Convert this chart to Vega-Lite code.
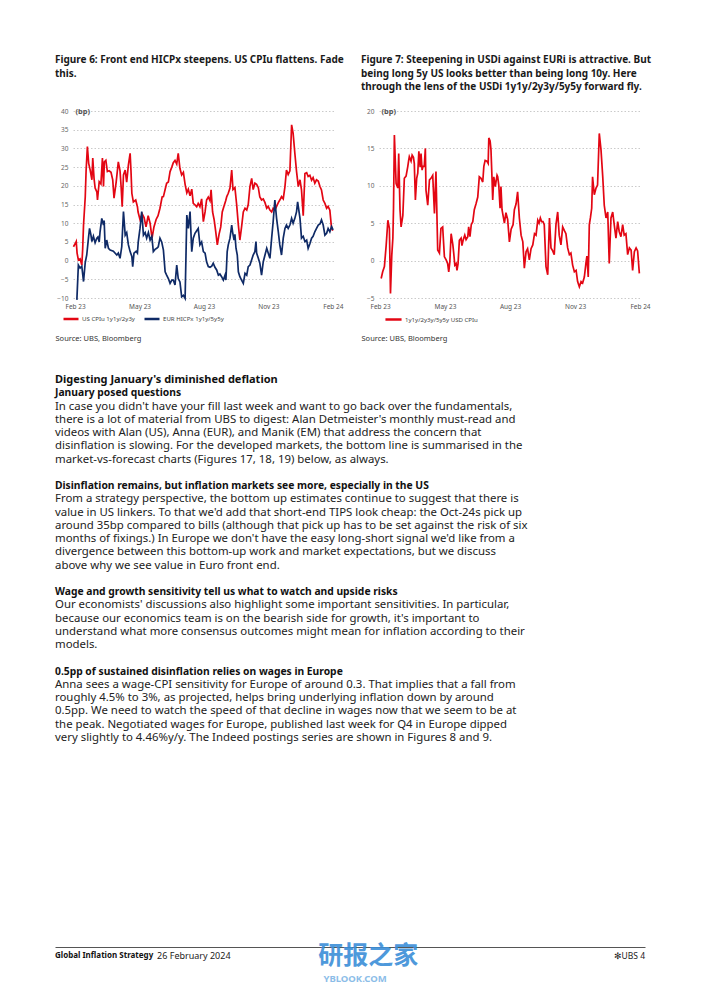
{
"$schema": "https://vega.github.io/schema/vega-lite/v6.json",
"background": "white",
"padding": {"left": 55, "top": 55, "right": 0, "bottom": 0},
"config": {
  "font": "Noto Sans",
  "view": {"stroke": null},
  "axis": {"labelFont": "Noto Sans", "titleFont": "Noto Sans"},
  "legend": {"labelFont": "Noto Sans", "titleFont": "Noto Sans"},
  "title": {"font": "Noto Sans"}
},
"datasets": {
"fig6": [
{"s":"US","t":-0.08,"v":3.7},{"s":"US","t":0,"v":4.5},{"s":"US","t":0.05,"v":5.1},{"s":"US","t":0.09,"v":2},{"s":"US","t":0.15,"v":0.2},{"s":"US","t":0.23,"v":0.5},{"s":"US","t":0.31,"v":-1.2},{"s":"US","t":0.35,"v":3},{"s":"US","t":0.39,"v":9.5},{"s":"US","t":0.47,"v":17},{"s":"US","t":0.51,"v":24},{"s":"US","t":0.57,"v":30.5},{"s":"US","t":0.63,"v":26},{"s":"US","t":0.70,"v":24.2},{"s":"US","t":0.78,"v":21.6},{"s":"US","t":0.82,"v":27.4},{"s":"US","t":0.88,"v":22},{"s":"US","t":0.93,"v":19.4},{"s":"US","t":1.01,"v":18.4},{"s":"US","t":1.04,"v":16.2},{"s":"US","t":1.12,"v":21.1},{"s":"US","t":1.20,"v":20.5},{"s":"US","t":1.27,"v":27.4},{"s":"US","t":1.32,"v":19.8},{"s":"US","t":1.36,"v":26.4},{"s":"US","t":1.43,"v":26.8},{"s":"US","t":1.50,"v":23.8},{"s":"US","t":1.58,"v":24},{"s":"US","t":1.67,"v":23.6},{"s":"US","t":1.75,"v":21.6},{"s":"US","t":1.81,"v":16.7},{"s":"US","t":1.91,"v":21},{"s":"US","t":2.01,"v":26.4},{"s":"US","t":2.09,"v":24},{"s":"US","t":2.14,"v":19.8},{"s":"US","t":2.19,"v":14.4},{"s":"US","t":2.25,"v":22.9},{"s":"US","t":2.33,"v":24.2},{"s":"US","t":2.40,"v":21},{"s":"US","t":2.48,"v":25.6},{"s":"US","t":2.56,"v":28.7},{"s":"US","t":2.60,"v":24},{"s":"US","t":2.64,"v":18},{"s":"US","t":2.71,"v":15.7},{"s":"US","t":2.82,"v":16.2},{"s":"US","t":2.90,"v":14.4},{"s":"US","t":2.93,"v":13},{"s":"US","t":3.02,"v":11},{"s":"US","t":3.12,"v":12.5},{"s":"US","t":3.21,"v":11.5},{"s":"US","t":3.30,"v":9},{"s":"US","t":3.40,"v":12},{"s":"US","t":3.49,"v":10},{"s":"US","t":3.58,"v":6},{"s":"US","t":3.67,"v":9},{"s":"US","t":3.77,"v":11},{"s":"US","t":3.86,"v":12},{"s":"US","t":3.95,"v":14},{"s":"US","t":4.05,"v":17},{"s":"US","t":4.11,"v":17.1},{"s":"US","t":4.19,"v":19},{"s":"US","t":4.26,"v":20.7},{"s":"US","t":4.34,"v":21},{"s":"US","t":4.42,"v":23.8},{"s":"US","t":4.50,"v":25},{"s":"US","t":4.57,"v":26.2},{"s":"US","t":4.65,"v":26.8},{"s":"US","t":4.73,"v":25.8},{"s":"US","t":4.80,"v":28.7},{"s":"US","t":4.88,"v":24.6},{"s":"US","t":4.96,"v":22.9},{"s":"US","t":5.04,"v":23.6},{"s":"US","t":5.12,"v":20.4},{"s":"US","t":5.20,"v":18.1},{"s":"US","t":5.27,"v":19.1},{"s":"US","t":5.35,"v":17.3},{"s":"US","t":5.43,"v":19.1},{"s":"US","t":5.50,"v":15.3},{"s":"US","t":5.58,"v":14.9},{"s":"US","t":5.66,"v":14.4},{"s":"US","t":5.73,"v":15.3},{"s":"US","t":5.81,"v":14.4},{"s":"US","t":5.89,"v":16.5},{"s":"US","t":5.97,"v":10.4},{"s":"US","t":6.05,"v":13},{"s":"US","t":6.12,"v":16.2},{"s":"US","t":6.20,"v":17},{"s":"US","t":6.28,"v":16},{"s":"US","t":6.33,"v":18.9},{"s":"US","t":6.40,"v":13},{"s":"US","t":6.47,"v":11},{"s":"US","t":6.54,"v":8},{"s":"US","t":6.62,"v":4.2},{"s":"US","t":6.70,"v":7},{"s":"US","t":6.78,"v":9},{"s":"US","t":6.85,"v":13},{"s":"US","t":6.93,"v":14.5},{"s":"US","t":7.01,"v":16},{"s":"US","t":7.06,"v":17.1},{"s":"US","t":7.13,"v":18},{"s":"US","t":7.21,"v":19.4},{"s":"US","t":7.29,"v":24.2},{"s":"US","t":7.35,"v":19},{"s":"US","t":7.44,"v":19.5},{"s":"US","t":7.52,"v":15},{"s":"US","t":7.60,"v":9.5},{"s":"US","t":7.67,"v":5.5},{"s":"US","t":7.75,"v":9},{"s":"US","t":7.83,"v":13},{"s":"US","t":7.91,"v":14},{"s":"US","t":7.99,"v":13.5},{"s":"US","t":8.06,"v":15},{"s":"US","t":8.14,"v":19.8},{"s":"US","t":8.22,"v":22},{"s":"US","t":8.29,"v":19},{"s":"US","t":8.37,"v":20.7},{"s":"US","t":8.45,"v":20.4},{"s":"US","t":8.53,"v":19.5},{"s":"US","t":8.60,"v":17},{"s":"US","t":8.68,"v":16.2},{"s":"US","t":8.76,"v":16.5},{"s":"US","t":8.84,"v":15.5},{"s":"US","t":8.92,"v":14},{"s":"US","t":8.99,"v":14.5},{"s":"US","t":9.07,"v":13.5},{"s":"US","t":9.15,"v":13},{"s":"US","t":9.22,"v":14},{"s":"US","t":9.30,"v":13.5},{"s":"US","t":9.38,"v":14.5},{"s":"US","t":9.46,"v":15.5},{"s":"US","t":9.53,"v":16.2},{"s":"US","t":9.61,"v":17.1},{"s":"US","t":9.69,"v":16.5},{"s":"US","t":9.77,"v":19.8},{"s":"US","t":9.84,"v":24.2},{"s":"US","t":9.92,"v":23},{"s":"US","t":10.00,"v":24},{"s":"US","t":10.08,"v":36.3},{"s":"US","t":10.15,"v":34},{"s":"US","t":10.23,"v":28.7},{"s":"US","t":10.31,"v":23.8},{"s":"US","t":10.39,"v":19.8},{"s":"US","t":10.47,"v":21.6},{"s":"US","t":10.54,"v":18.9},{"s":"US","t":10.62,"v":12},{"s":"US","t":10.70,"v":23.3},{"s":"US","t":10.78,"v":23.5},{"s":"US","t":10.85,"v":22.5},{"s":"US","t":10.93,"v":22.8},{"s":"US","t":11.01,"v":21.5},{"s":"US","t":11.08,"v":22.2},{"s":"US","t":11.16,"v":20.7},{"s":"US","t":11.24,"v":21.6},{"s":"US","t":11.32,"v":21.3},{"s":"US","t":11.40,"v":19.8},{"s":"US","t":11.47,"v":18.9},{"s":"US","t":11.55,"v":16.2},{"s":"US","t":11.63,"v":15.3},{"s":"US","t":11.71,"v":14},{"s":"US","t":11.78,"v":14.5},{"s":"US","t":11.86,"v":13.5},{"s":"US","t":11.94,"v":8.6},{"s":"US","t":12.00,"v":8},
{"s":"EUR","t":0.08,"v":-10.5},{"s":"EUR","t":0.15,"v":-1.2},{"s":"EUR","t":0.23,"v":-2},{"s":"EUR","t":0.31,"v":-1.5},{"s":"EUR","t":0.39,"v":-5.6},{"s":"EUR","t":0.47,"v":-0.5},{"s":"EUR","t":0.54,"v":1.5},{"s":"EUR","t":0.62,"v":6},{"s":"EUR","t":0.67,"v":8.6},{"s":"EUR","t":0.73,"v":7},{"s":"EUR","t":0.78,"v":5.1},{"s":"EUR","t":0.85,"v":6.5},{"s":"EUR","t":0.93,"v":4.8},{"s":"EUR","t":1.01,"v":6},{"s":"EUR","t":1.06,"v":6.3},{"s":"EUR","t":1.12,"v":5},{"s":"EUR","t":1.16,"v":7.7},{"s":"EUR","t":1.24,"v":11.3},{"s":"EUR","t":1.32,"v":9.5},{"s":"EUR","t":1.35,"v":10.7},{"s":"EUR","t":1.40,"v":3.3},{"s":"EUR","t":1.47,"v":5.5},{"s":"EUR","t":1.55,"v":3.3},{"s":"EUR","t":1.63,"v":2.8},{"s":"EUR","t":1.78,"v":2.5},{"s":"EUR","t":1.94,"v":1.5},{"s":"EUR","t":2.01,"v":2},{"s":"EUR","t":2.09,"v":0.6},{"s":"EUR","t":2.17,"v":3.7},{"s":"EUR","t":2.25,"v":13.1},{"s":"EUR","t":2.33,"v":6.8},{"s":"EUR","t":2.40,"v":7.5},{"s":"EUR","t":2.48,"v":4.2},{"s":"EUR","t":2.56,"v":2.4},{"s":"EUR","t":2.64,"v":1.1},{"s":"EUR","t":2.68,"v":-1.6},{"s":"EUR","t":2.74,"v":2},{"s":"EUR","t":2.84,"v":2.5},{"s":"EUR","t":2.90,"v":2},{"s":"EUR","t":2.94,"v":5.1},{"s":"EUR","t":3.02,"v":8.6},{"s":"EUR","t":3.10,"v":13.1},{"s":"EUR","t":3.18,"v":6.8},{"s":"EUR","t":3.26,"v":7.5},{"s":"EUR","t":3.33,"v":6},{"s":"EUR","t":3.41,"v":7.5},{"s":"EUR","t":3.49,"v":5.5},{"s":"EUR","t":3.57,"v":6.5},{"s":"EUR","t":3.64,"v":2.4},{"s":"EUR","t":3.72,"v":3},{"s":"EUR","t":3.80,"v":3.3},{"s":"EUR","t":3.87,"v":3.7},{"s":"EUR","t":3.95,"v":6},{"s":"EUR","t":4.03,"v":5},{"s":"EUR","t":4.11,"v":2.8},{"s":"EUR","t":4.19,"v":-3},{"s":"EUR","t":4.26,"v":-3.9},{"s":"EUR","t":4.34,"v":-4.8},{"s":"EUR","t":4.42,"v":-6.1},{"s":"EUR","t":4.50,"v":-5.2},{"s":"EUR","t":4.57,"v":-5.2},{"s":"EUR","t":4.65,"v":-6.5},{"s":"EUR","t":4.73,"v":-1.2},{"s":"EUR","t":4.80,"v":-4.8},{"s":"EUR","t":4.88,"v":-5.7},{"s":"EUR","t":4.96,"v":-9.7},{"s":"EUR","t":5.04,"v":-9.3},{"s":"EUR","t":5.12,"v":-10.1},{"s":"EUR","t":5.20,"v":12.2},{"s":"EUR","t":5.27,"v":8.6},{"s":"EUR","t":5.35,"v":13.1},{"s":"EUR","t":5.43,"v":2.4},{"s":"EUR","t":5.50,"v":6},{"s":"EUR","t":5.58,"v":7.3},{"s":"EUR","t":5.66,"v":8},{"s":"EUR","t":5.73,"v":8.6},{"s":"EUR","t":5.81,"v":4.2},{"s":"EUR","t":5.89,"v":5},{"s":"EUR","t":5.97,"v":2.4},{"s":"EUR","t":6.05,"v":2},{"s":"EUR","t":6.12,"v":-0.3},{"s":"EUR","t":6.20,"v":-1.6},{"s":"EUR","t":6.28,"v":-1.8},{"s":"EUR","t":6.36,"v":-1.5},{"s":"EUR","t":6.43,"v":-0.7},{"s":"EUR","t":6.51,"v":-1.8},{"s":"EUR","t":6.59,"v":-2.5},{"s":"EUR","t":6.67,"v":-3.9},{"s":"EUR","t":6.74,"v":-3.6},{"s":"EUR","t":6.82,"v":-4.3},{"s":"EUR","t":6.90,"v":-5.2},{"s":"EUR","t":6.98,"v":-3.9},{"s":"EUR","t":7.02,"v":-5.2},{"s":"EUR","t":7.08,"v":2.4},{"s":"EUR","t":7.13,"v":4.2},{"s":"EUR","t":7.21,"v":6},{"s":"EUR","t":7.29,"v":9.5},{"s":"EUR","t":7.33,"v":7.7},{"s":"EUR","t":7.40,"v":5.5},{"s":"EUR","t":7.44,"v":7},{"s":"EUR","t":7.49,"v":3.3},{"s":"EUR","t":7.55,"v":1.5},{"s":"EUR","t":7.60,"v":-3},{"s":"EUR","t":7.67,"v":-4.3},{"s":"EUR","t":7.75,"v":-5.2},{"s":"EUR","t":7.83,"v":-6.1},{"s":"EUR","t":7.91,"v":-3.4},{"s":"EUR","t":7.99,"v":-3.9},{"s":"EUR","t":8.06,"v":-1.6},{"s":"EUR","t":8.14,"v":-1.2},{"s":"EUR","t":8.22,"v":0.2},{"s":"EUR","t":8.29,"v":1.5},{"s":"EUR","t":8.37,"v":2.4},{"s":"EUR","t":8.42,"v":5.1},{"s":"EUR","t":8.45,"v":2},{"s":"EUR","t":8.53,"v":0.6},{"s":"EUR","t":8.60,"v":-0.7},{"s":"EUR","t":8.68,"v":-3.9},{"s":"EUR","t":8.76,"v":-0.3},{"s":"EUR","t":8.84,"v":1.5},{"s":"EUR","t":8.92,"v":3.3},{"s":"EUR","t":8.99,"v":2},{"s":"EUR","t":9.07,"v":0.6},{"s":"EUR","t":9.15,"v":6},{"s":"EUR","t":9.22,"v":10.4},{"s":"EUR","t":9.30,"v":16.2},{"s":"EUR","t":9.38,"v":11.3},{"s":"EUR","t":9.46,"v":7.7},{"s":"EUR","t":9.53,"v":4.2},{"s":"EUR","t":9.61,"v":1.5},{"s":"EUR","t":9.69,"v":6},{"s":"EUR","t":9.77,"v":8.6},{"s":"EUR","t":9.84,"v":9.5},{"s":"EUR","t":9.92,"v":8.6},{"s":"EUR","t":10.00,"v":9.5},{"s":"EUR","t":10.08,"v":11.3},{"s":"EUR","t":10.15,"v":10},{"s":"EUR","t":10.23,"v":11.3},{"s":"EUR","t":10.31,"v":13.1},{"s":"EUR","t":10.36,"v":15.7},{"s":"EUR","t":10.47,"v":11.3},{"s":"EUR","t":10.54,"v":6},{"s":"EUR","t":10.62,"v":6.5},{"s":"EUR","t":10.70,"v":5.1},{"s":"EUR","t":10.78,"v":5.5},{"s":"EUR","t":10.85,"v":3.3},{"s":"EUR","t":10.93,"v":4.5},{"s":"EUR","t":11.01,"v":6},{"s":"EUR","t":11.08,"v":6.5},{"s":"EUR","t":11.16,"v":7.7},{"s":"EUR","t":11.24,"v":8.6},{"s":"EUR","t":11.32,"v":9.5},{"s":"EUR","t":11.40,"v":9.8},{"s":"EUR","t":11.47,"v":10.9},{"s":"EUR","t":11.55,"v":9.5},{"s":"EUR","t":11.63,"v":6.8},{"s":"EUR","t":11.71,"v":7.3},{"s":"EUR","t":11.78,"v":8.6},{"s":"EUR","t":11.86,"v":7.7},{"s":"EUR","t":11.94,"v":9.1},{"s":"EUR","t":12.01,"v":8.2}
],
"fig7": [
{"s":"USD","t":0.05,"v":-2.4},{"s":"USD","t":0.12,"v":-1.5},{"s":"USD","t":0.20,"v":-0.8},{"s":"USD","t":0.28,"v":2},{"s":"USD","t":0.36,"v":5.4},{"s":"USD","t":0.43,"v":4.3},{"s":"USD","t":0.48,"v":-4.4},{"s":"USD","t":0.54,"v":0.7},{"s":"USD","t":0.59,"v":3},{"s":"USD","t":0.62,"v":7},{"s":"USD","t":0.66,"v":16.8},{"s":"USD","t":0.74,"v":10.3},{"s":"USD","t":0.82,"v":9.7},{"s":"USD","t":0.86,"v":14.3},{"s":"USD","t":0.92,"v":6.8},{"s":"USD","t":0.97,"v":4.5},{"s":"USD","t":1.05,"v":6},{"s":"USD","t":1.12,"v":11},{"s":"USD","t":1.20,"v":11.3},{"s":"USD","t":1.28,"v":12.6},{"s":"USD","t":1.32,"v":13.4},{"s":"USD","t":1.35,"v":13.9},{"s":"USD","t":1.43,"v":13.3},{"s":"USD","t":1.48,"v":14.1},{"s":"USD","t":1.54,"v":13.8},{"s":"USD","t":1.58,"v":13},{"s":"USD","t":1.63,"v":8.1},{"s":"USD","t":1.69,"v":11},{"s":"USD","t":1.74,"v":11.7},{"s":"USD","t":1.79,"v":14.6},{"s":"USD","t":1.85,"v":12.5},{"s":"USD","t":1.89,"v":14.3},{"s":"USD","t":1.94,"v":12.1},{"s":"USD","t":1.98,"v":12.6},{"s":"USD","t":2.04,"v":12.6},{"s":"USD","t":2.09,"v":15},{"s":"USD","t":2.12,"v":9.4},{"s":"USD","t":2.20,"v":7.4},{"s":"USD","t":2.28,"v":10.8},{"s":"USD","t":2.35,"v":11},{"s":"USD","t":2.43,"v":11.4},{"s":"USD","t":2.51,"v":6.3},{"s":"USD","t":2.58,"v":11.9},{"s":"USD","t":2.66,"v":1.4},{"s":"USD","t":2.74,"v":1},{"s":"USD","t":2.81,"v":4.3},{"s":"USD","t":2.89,"v":4.5},{"s":"USD","t":2.97,"v":0.5},{"s":"USD","t":3.05,"v":0.1},{"s":"USD","t":3.12,"v":-0.4},{"s":"USD","t":3.17,"v":-1.5},{"s":"USD","t":3.22,"v":-0.2},{"s":"USD","t":3.28,"v":3.6},{"s":"USD","t":3.36,"v":2.1},{"s":"USD","t":3.40,"v":1},{"s":"USD","t":3.45,"v":-0.6},{"s":"USD","t":3.51,"v":-0.4},{"s":"USD","t":3.55,"v":-1.3},{"s":"USD","t":3.60,"v":-0.4},{"s":"USD","t":3.66,"v":2.7},{"s":"USD","t":3.74,"v":3},{"s":"USD","t":3.78,"v":2},{"s":"USD","t":3.84,"v":2.8},{"s":"USD","t":3.91,"v":3.4},{"s":"USD","t":3.97,"v":2.8},{"s":"USD","t":4.05,"v":3.2},{"s":"USD","t":4.09,"v":4.5},{"s":"USD","t":4.15,"v":3.2},{"s":"USD","t":4.21,"v":4.8},{"s":"USD","t":4.28,"v":5.2},{"s":"USD","t":4.35,"v":6.8},{"s":"USD","t":4.43,"v":7.6},{"s":"USD","t":4.51,"v":8.5},{"s":"USD","t":4.58,"v":11.2},{"s":"USD","t":4.66,"v":11},{"s":"USD","t":4.74,"v":10.5},{"s":"USD","t":4.79,"v":12.6},{"s":"USD","t":4.85,"v":13.4},{"s":"USD","t":4.93,"v":13.3},{"s":"USD","t":4.99,"v":13},{"s":"USD","t":5.02,"v":16.4},{"s":"USD","t":5.08,"v":16},{"s":"USD","t":5.12,"v":14.8},{"s":"USD","t":5.17,"v":10.8},{"s":"USD","t":5.20,"v":8.1},{"s":"USD","t":5.25,"v":11.2},{"s":"USD","t":5.32,"v":9.9},{"s":"USD","t":5.35,"v":10.5},{"s":"USD","t":5.40,"v":11.4},{"s":"USD","t":5.43,"v":11.2},{"s":"USD","t":5.48,"v":10.1},{"s":"USD","t":5.54,"v":7},{"s":"USD","t":5.58,"v":9.9},{"s":"USD","t":5.63,"v":6.8},{"s":"USD","t":5.74,"v":5},{"s":"USD","t":5.81,"v":6.4},{"s":"USD","t":5.89,"v":5.5},{"s":"USD","t":5.97,"v":2.5},{"s":"USD","t":6.05,"v":4.2},{"s":"USD","t":6.14,"v":4.8},{"s":"USD","t":6.20,"v":6.8},{"s":"USD","t":6.28,"v":7.6},{"s":"USD","t":6.35,"v":9.2},{"s":"USD","t":6.43,"v":5.7},{"s":"USD","t":6.51,"v":3.4},{"s":"USD","t":6.59,"v":2.5},{"s":"USD","t":6.66,"v":-1},{"s":"USD","t":6.74,"v":1.2},{"s":"USD","t":6.81,"v":1.6},{"s":"USD","t":6.89,"v":0.1},{"s":"USD","t":6.97,"v":1.6},{"s":"USD","t":7.05,"v":2.1},{"s":"USD","t":7.13,"v":3.6},{"s":"USD","t":7.20,"v":3.4},{"s":"USD","t":7.28,"v":5.4},{"s":"USD","t":7.34,"v":5},{"s":"USD","t":7.40,"v":5.7},{"s":"USD","t":7.46,"v":5.2},{"s":"USD","t":7.52,"v":5.2},{"s":"USD","t":7.58,"v":4.8},{"s":"USD","t":7.66,"v":-0.8},{"s":"USD","t":7.74,"v":-1.9},{"s":"USD","t":7.82,"v":5.7},{"s":"USD","t":7.89,"v":1.7},{"s":"USD","t":7.97,"v":1.3},{"s":"USD","t":8.04,"v":0.8},{"s":"USD","t":8.12,"v":4.8},{"s":"USD","t":8.20,"v":6.5},{"s":"USD","t":8.27,"v":3.4},{"s":"USD","t":8.35,"v":2.1},{"s":"USD","t":8.43,"v":4.5},{"s":"USD","t":8.51,"v":4},{"s":"USD","t":8.58,"v":3.6},{"s":"USD","t":8.66,"v":1.7},{"s":"USD","t":8.74,"v":0.8},{"s":"USD","t":8.81,"v":1},{"s":"USD","t":8.89,"v":-0.6},{"s":"USD","t":8.97,"v":-1.5},{"s":"USD","t":9.05,"v":-1.3},{"s":"USD","t":9.12,"v":-2.8},{"s":"USD","t":9.20,"v":-3.5},{"s":"USD","t":9.28,"v":-2.8},{"s":"USD","t":9.35,"v":-3},{"s":"USD","t":9.43,"v":-2.2},{"s":"USD","t":9.51,"v":-0.2},{"s":"USD","t":9.55,"v":0.6},{"s":"USD","t":9.61,"v":-2.2},{"s":"USD","t":9.66,"v":4.8},{"s":"USD","t":9.71,"v":5.7},{"s":"USD","t":9.77,"v":7},{"s":"USD","t":9.81,"v":11.2},{"s":"USD","t":9.89,"v":8.8},{"s":"USD","t":9.97,"v":9.7},{"s":"USD","t":10.04,"v":10.1},{"s":"USD","t":10.12,"v":17},{"s":"USD","t":10.20,"v":14.8},{"s":"USD","t":10.28,"v":11.2},{"s":"USD","t":10.35,"v":7.4},{"s":"USD","t":10.43,"v":5.7},{"s":"USD","t":10.51,"v":6.5},{"s":"USD","t":10.58,"v":-0.4},{"s":"USD","t":10.66,"v":5.7},{"s":"USD","t":10.74,"v":6.5},{"s":"USD","t":10.81,"v":4.8},{"s":"USD","t":10.89,"v":3},{"s":"USD","t":10.97,"v":5.2},{"s":"USD","t":11.04,"v":3.9},{"s":"USD","t":11.12,"v":3.2},{"s":"USD","t":11.20,"v":4.8},{"s":"USD","t":11.27,"v":3.4},{"s":"USD","t":11.35,"v":3.6},{"s":"USD","t":11.43,"v":0.8},{"s":"USD","t":11.51,"v":1.7},{"s":"USD","t":11.59,"v":1.4},{"s":"USD","t":11.66,"v":-1.3},{"s":"USD","t":11.74,"v":1.2},{"s":"USD","t":11.82,"v":1.7},{"s":"USD","t":11.89,"v":1.3},{"s":"USD","t":11.97,"v":-1.7}
],
"body": [
{"line":1,"kind":"h1","text":"Digesting January's diminished deflation"},
{"line":2,"kind":"h2","text":"January posed questions"},
{"line":3,"kind":"p","text":"In case you didn't have your fill last week and want to go back over the fundamentals,"},
{"line":4,"kind":"p","text":"there is a lot of material from UBS to digest: Alan Detmeister's monthly must-read and"},
{"line":5,"kind":"p","text":"videos with Alan (US), Anna (EUR), and Manik (EM) that address the concern that"},
{"line":6,"kind":"p","text":"disinflation is slowing. For the developed markets, the bottom line is summarised in the"},
{"line":7,"kind":"p","text":"market-vs-forecast charts (Figures 17, 18, 19) below, as always."},
{"line":9,"kind":"h2","text":"Disinflation remains, but inflation markets see more, especially in the US"},
{"line":10,"kind":"p","text":"From a strategy perspective, the bottom up estimates continue to suggest that there is"},
{"line":11,"kind":"p","text":"value in US linkers. To that we'd add that short-end TIPS look cheap: the Oct-24s pick up"},
{"line":12,"kind":"p","text":"around 35bp compared to bills (although that pick up has to be set against the risk of six"},
{"line":13,"kind":"p","text":"months of fixings.) In Europe we don't have the easy long-short signal we'd like from a"},
{"line":14,"kind":"p","text":"divergence between this bottom-up work and market expectations, but we discuss"},
{"line":15,"kind":"p","text":"above why we see value in Euro front end."},
{"line":17,"kind":"h2","text":"Wage and growth sensitivity tell us what to watch and upside risks"},
{"line":18,"kind":"p","text":"Our economists' discussions also highlight some important sensitivities. In particular,"},
{"line":19,"kind":"p","text":"because our economics team is on the bearish side for growth, it's important to"},
{"line":20,"kind":"p","text":"understand what more consensus outcomes might mean for inflation according to their"},
{"line":21,"kind":"p","text":"models."},
{"line":23,"kind":"h2","text":"0.5pp of sustained disinflation relies on wages in Europe"},
{"line":24,"kind":"p","text":"Anna sees a wage-CPI sensitivity for Europe of around 0.3. That implies that a fall from"},
{"line":25,"kind":"p","text":"roughly 4.5% to 3%, as projected, helps bring underlying inflation down by around"},
{"line":26,"kind":"p","text":"0.5pp. We need to watch the speed of that decline in wages now that we seem to be at"},
{"line":27,"kind":"p","text":"the peak. Negotiated wages for Europe, published last week for Q4 in Europe dipped"},
{"line":28,"kind":"p","text":"very slightly to 4.46%y/y. The Indeed postings series are shown in Figures 8 and 9."}
]
},
"vconcat": [
  {
    "hconcat": [
      {
        "width": 262, "height": 187,
        "title": {"text": ["Figure 6: Front end HICPx steepens. US CPIu flattens. Fade", "this.", " "], "anchor": "start", "frame": "bounds", "fontSize": 10, "fontWeight": "bold", "lineHeight": 13.5, "color": "#1a1a1a", "offset": 15},
        "data": {"name": "fig6"},
        "mark": {"type": "line", "strokeWidth": 1.7},
        "encoding": {
          "x": {"field": "t", "type": "quantitative", "scale": {"domain": [-0.1, 12.1], "nice": false, "zero": false},
            "axis": {"values": [0, 3, 6, 9, 12], "labelExpr": "['Feb 23','','','May 23','','','Aug 23','','','Nov 23','','','Feb 24'][datum.value]", "grid": false, "domain": false, "ticks": false, "labelFontSize": 6.5, "labelColor": "#555", "labelPadding": 5, "labelOverlap": false, "labelFlush": false,
              "title": "Source: UBS, Bloomberg", "titleX": -18, "titleY": 40, "titleAlign": "left", "titleAnchor": null, "titleBaseline": "middle", "titleFontSize": 7.5, "titleFontWeight": "normal", "titleColor": "#333"}},
          "y": {"field": "v", "type": "quantitative", "scale": {"domain": [-10, 40], "nice": false, "zero": false},
            "axis": {"values": [-10, -5, 0, 5, 10, 15, 20, 25, 30, 35, 40], "grid": true, "gridDash": [1.5, 2], "gridColor": "#bdbdbd", "gridWidth": 0.8, "domain": false, "ticks": false, "labelFontSize": 6.5, "labelColor": "#666", "labelPadding": 5, "minExtent": 18, "maxExtent": 18,
              "title": "(bp)", "titleAngle": 0, "titleX": 2, "titleY": 0, "titleAlign": "left", "titleBaseline": "middle", "titleFontSize": 7.5, "titleFontWeight": "bold", "titleColor": "#555"}},
          "color": {"field": "s", "type": "nominal", "scale": {"domain": ["US", "EUR"], "range": ["#e30613", "#0f2a66"]},
            "legend": {"orient": "none", "legendX": -11, "legendY": 199, "direction": "horizontal", "title": null, "symbolType": "stroke", "symbolStrokeWidth": 2.5, "symbolSize": 225, "labelFontSize": 6.1, "labelColor": "#444", "labelOffset": 2, "columnPadding": 4, "padding": 0,
              "labelExpr": "datum.label == 'US' ? 'US CPIu 1y1y/2y3y' : 'EUR HICPx 1y1y/5y5y'"}}
        }
      },
      {
        "width": 261, "height": 187,
        "title": {"text": ["Figure 7: Steepening in USDi against EURi is attractive. But", "being long 5y US looks better than being long 10y. Here", "through the lens of the USDi 1y1y/2y3y/5y5y forward fly."], "anchor": "start", "frame": "bounds", "fontSize": 10, "fontWeight": "bold", "lineHeight": 13.5, "color": "#1a1a1a", "offset": 15},
        "data": {"name": "fig7"},
        "mark": {"type": "line", "strokeWidth": 1.7},
        "encoding": {
          "x": {"field": "t", "type": "quantitative", "scale": {"domain": [-0.05, 12.0], "nice": false, "zero": false},
            "axis": {"values": [0, 3, 6, 9, 12], "labelExpr": "['Feb 23','','','May 23','','','Aug 23','','','Nov 23','','','Feb 24'][datum.value]", "grid": false, "domain": false, "ticks": false, "labelFontSize": 6.5, "labelColor": "#555", "labelPadding": 5, "labelOverlap": false, "labelFlush": false,
              "title": "Source: UBS, Bloomberg", "titleX": -18, "titleY": 40, "titleAlign": "left", "titleAnchor": null, "titleBaseline": "middle", "titleFontSize": 7.5, "titleFontWeight": "normal", "titleColor": "#333"}},
          "y": {"field": "v", "type": "quantitative", "scale": {"domain": [-5, 20], "nice": false, "zero": false},
            "axis": {"values": [-5, 0, 5, 10, 15, 20], "grid": true, "gridDash": [1.5, 2], "gridColor": "#bdbdbd", "gridWidth": 0.8, "domain": false, "ticks": false, "labelFontSize": 6.5, "labelColor": "#666", "labelPadding": 5, "minExtent": 18, "maxExtent": 18,
              "title": "(bp)", "titleAngle": 0, "titleX": 2, "titleY": 0, "titleAlign": "left", "titleBaseline": "middle", "titleFontSize": 7.5, "titleFontWeight": "bold", "titleColor": "#555"}},
          "color": {"field": "s", "type": "nominal", "scale": {"domain": ["USD"], "range": ["#e30613"]},
            "legend": {"orient": "none", "legendX": 5, "legendY": 199, "direction": "horizontal", "title": null, "symbolType": "stroke", "symbolStrokeWidth": 2.5, "symbolSize": 260, "labelFontSize": 6.1, "labelColor": "#444", "labelOffset": 2, "padding": 0,
              "labelExpr": "'1y1y/2y3y/5y5y USD CPIu'"}}
        }
      }
    ],
    "spacing": 17,
    "resolve": {"scale": {"color": "independent"}, "legend": {"color": "independent"}}
  },
  {
    "vconcat": [
      {
        "width": 590, "height": 358,
        "data": {"name": "body"},
        "encoding": {
          "y": {"field": "line", "type": "quantitative", "scale": {"domain": [1, 28], "reverse": true, "nice": false, "zero": false}, "axis": null},
          "x": {"value": 0},
          "text": {"field": "text"}
        },
        "layer": [
          {"transform": [{"filter": "datum.kind == 'h1'"}], "mark": {"type": "text", "align": "left", "baseline": "middle", "dx": -18, "fontSize": 11, "fontWeight": "bold", "color": "#111"}},
          {"transform": [{"filter": "datum.kind == 'h2'"}], "mark": {"type": "text", "align": "left", "baseline": "middle", "dx": -18, "fontSize": 10.3, "fontWeight": "bold", "color": "#111"}},
          {"transform": [{"filter": "datum.kind == 'p'"}], "mark": {"type": "text", "align": "left", "baseline": "middle", "dx": -18, "fontSize": 11.4, "color": "#222"}}
        ]
      },
      {
        "width": 590, "height": 18,
        "data": {"values": [
          {"part": "series", "label": "Global Inflation Strategy"},
          {"part": "date", "label": "26 February 2024"},
          {"part": "brand", "label": "研报之家"},
          {"part": "site", "label": "YBLOOK.COM"},
          {"part": "page", "label": "✻UBS  4"}
        ]},
        "layer": [
          {"transform": [{"filter": "datum.part == 'series'"}], "mark": {"type": "text", "align": "left", "baseline": "middle", "fontSize": 8, "fontWeight": "bold", "color": "#111"},
           "encoding": {"x": {"datum": 0, "type": "quantitative", "scale": {"domain": [0, 1], "range": [-18, 572], "nice": false, "zero": false}, "axis": {"orient": "top", "domain": true, "domainColor": "#555", "domainWidth": 1, "labels": false, "ticks": false, "grid": false, "title": null}}, "text": {"field": "label"}}},
          {"transform": [{"filter": "datum.part == 'date'"}], "mark": {"type": "text", "align": "left", "baseline": "middle", "fontSize": 9, "color": "#222"},
           "encoding": {"x": {"datum": 0.173, "type": "quantitative"}, "text": {"field": "label"}}},
          {"transform": [{"filter": "datum.part == 'brand'"}], "mark": {"type": "text", "align": "left", "baseline": "middle", "fontSize": 25, "fontWeight": "bold", "font": "Noto Sans CJK SC", "color": "#3b8ed8", "opacity": 0.9},
           "encoding": {"x": {"datum": 0.446, "type": "quantitative"}, "text": {"field": "label"}}},
          {"transform": [{"filter": "datum.part == 'site'"}], "mark": {"type": "text", "align": "left", "baseline": "middle", "fontSize": 9.5, "fontWeight": "bold", "color": "#8cbde8", "dy": 23},
           "encoding": {"x": {"datum": 0.455, "type": "quantitative"}, "text": {"field": "label"}}},
          {"transform": [{"filter": "datum.part == 'page'"}], "mark": {"type": "text", "align": "right", "baseline": "middle", "fontSize": 8.5, "color": "#222"},
           "encoding": {"x": {"datum": 1, "type": "quantitative"}, "text": {"field": "label"}}}
        ]
      }
    ],
    "spacing": 200
  }
],
"spacing": 32
}
